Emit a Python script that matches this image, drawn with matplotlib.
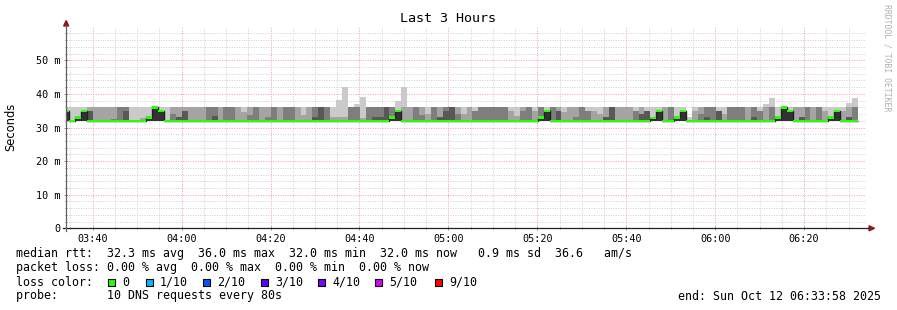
import numpy as np
import pandas as pd
import matplotlib
matplotlib.use("agg")
import matplotlib.pyplot as plt
import matplotlib.dates as mdates
from matplotlib.patches import Rectangle, Polygon
from matplotlib.lines import Line2D
from matplotlib.ticker import FixedLocator, FuncFormatter

W, H = 897, 310
MONO = "DejaVu Sans Mono"

title = "Last 3 Hours"
start = pd.Timestamp("2025-10-12 03:33:58")
end = pd.Timestamp("2025-10-12 06:33:58")
step = pd.Timedelta(seconds=80)
first_edge = pd.Timedelta(seconds=47)

# five lowest pings of every step sit on the floor
low_ms = 32.0
# median and the upper pings (ms), one value per 80 s step
med = [35, 32, 33, 35, 32, 32, 32, 32, 32, 32,
       32, 32, 32, 32, 33, 36, 35, 32, 32, 32,
       32, 32, 32, 32, 32, 32, 32, 32, 32, 32,
       32, 32, 32, 32, 32, 32, 32, 32, 32, 32,
       32, 32, 32, 32, 32, 32, 32, 32, 32, 32,
       32, 32, 32, 32, 32, 33, 35, 32, 32, 32,
       32, 32, 32, 32, 32, 32, 32, 32, 32, 32,
       32, 32, 32, 32, 32, 32, 32, 32, 32, 32,
       33, 35, 32, 32, 32, 32, 32, 32, 32, 32,
       32, 32, 32, 32, 32, 32, 32, 32, 32, 32.8,
       35, 32, 32, 33, 35, 32, 32, 32, 32, 32,
       32, 32, 32, 32, 32, 32, 32, 32, 32, 32,
       33, 36, 35, 32, 32, 32, 32, 32, 32, 33,
       35, 32, 32, 32]
p7 = [35, 32, 33, 35, 35, 32, 32, 32, 32, 32,
      34.8, 32, 32, 32, 33, 36, 35, 32, 32, 33.2,
      35, 32, 32, 32, 32, 33.5, 32, 32, 32, 32,
      32, 32, 32, 32, 32, 32, 32, 32, 32, 32,
      32, 32, 33.2, 36, 32, 32, 32, 32, 32, 32,
      32, 32, 33, 33.2, 36, 33, 35, 32, 32, 32,
      32, 32, 32, 33.2, 34.8, 36, 32, 32, 32, 32,
      32, 32, 32, 32, 32, 32, 32, 32, 32, 32,
      33, 35, 32, 34.8, 32, 32, 32, 32, 32, 32,
      32, 33.2, 36, 32, 32, 32, 32, 34, 34.8, 32.8,
      35, 32, 32, 33, 35, 32, 32, 32, 33.2, 32,
      34.8, 32, 32, 32, 32, 32, 33.2, 32, 32, 32,
      33, 36, 35, 32, 33.2, 32, 32, 32, 32, 33,
      35, 32, 33.2, 32]
p8 = [35, 32, 33, 35, 35, 32, 32, 32, 32.6, 36,
      36, 32, 32, 32, 33, 36, 35, 32, 34, 33.2,
      35, 32, 32, 32, 36, 36, 32, 36, 36, 32,
      32, 33.8, 36, 32, 33.2, 36, 32, 36, 36, 32,
      32, 32, 36, 36, 36, 32, 32, 32, 36, 36,
      32, 36, 36, 36, 36, 36, 35, 32, 32, 36,
      33.8, 32, 36, 33.2, 36, 36, 34, 32, 32, 35,
      36, 36, 36, 36, 36, 32, 32, 35, 36, 32,
      36, 35, 36, 34.8, 32, 32, 33, 36, 35, 32,
      32, 33.2, 36, 32, 32, 32, 35, 34, 35, 32.8,
      35, 32, 36, 33, 35, 32, 32, 34, 36, 36,
      34.8, 32, 36, 36, 36, 32, 36, 35, 32, 36,
      33, 36, 35, 32, 33.2, 36, 32, 36, 32, 33,
      35, 32, 33.2, 36]
p9 = [35, 32, 33, 35, 36, 36, 36, 36, 36, 36,
      36, 32, 32, 32.8, 33, 36, 35, 32, 36, 36,
      36, 36, 36, 36, 36, 36, 36, 36, 36, 36,
      34.5, 36, 36, 36, 36, 36, 36, 36, 36, 36,
      33.8, 36, 36, 36, 36, 33, 33, 33, 36, 36,
      32.8, 36, 36, 36, 36, 36, 35, 36, 36, 36,
      36, 34, 36, 36, 36, 36, 36, 34, 36, 35,
      36, 36, 36, 36, 36, 35, 33.5, 36, 36, 35,
      36, 35, 36, 36, 34.5, 36, 36, 36, 35, 35,
      34, 36, 36, 36, 36, 36, 35, 36, 35, 32.8,
      35, 36, 36, 33, 35, 32, 35, 36, 36, 36,
      34.8, 34, 36, 36, 36, 36, 36, 35, 36, 36,
      33, 36, 35, 36, 36, 36, 36, 36, 35, 33,
      35, 35, 36, 36]
p10 = [36, 36, 36, 36, 36, 36, 36, 36, 36, 36,
       36, 36, 36, 36, 36, 36, 36, 36, 36, 36,
       36, 36, 36, 36, 36, 36, 36, 36, 36, 36,
       36, 36, 36, 36, 36, 36, 36, 36, 36, 36,
       36, 36, 36, 36, 36, 36, 38.3, 42.2, 36, 37.1,
       39.1, 36, 36, 36, 36, 36, 38, 42, 36, 36,
       36, 36, 36, 36, 36, 36, 36, 36, 36, 36,
       36, 36, 36, 36, 36, 36, 36, 36, 36, 36,
       36, 36, 36, 36, 36, 36, 36, 36, 36, 36,
       36, 36, 36, 36, 36, 36, 36, 36, 36, 36,
       36, 36, 36, 36, 36, 33, 36, 36, 36, 36,
       36, 36, 36, 36, 36, 36, 36, 36, 37, 38.8,
       36, 36, 36, 36, 36, 36, 36, 36, 36, 36,
       36, 36, 37.2, 38.8]

loss_labels = ["0", "1/10", "2/10", "3/10", "4/10", "5/10", "9/10"]
loss_colors = ["#26ff00", "#00b8ff", "#0059ff", "#5e00ff", "#7e00ff", "#dd00ff", "#ff0000"]

rtt_line = "median rtt:  32.3 ms avg  36.0 ms max  32.0 ms min  32.0 ms now   0.9 ms sd  36.6   am/s"
loss_line = "packet loss: 0.00 % avg  0.00 % max  0.00 % min  0.00 % now"
probe_line = "probe:       10 DNS requests every 80s"
end_line = "end: Sun Oct 12 06:33:58 2025"


def fx(x):
    return x / W


def fy(y):
    return 1 - y / H


fig = plt.figure(figsize=(W / 100, H / 100), dpi=100)
fig.patch.set_facecolor("white")
left, right, top, bottom = 65.8, 866.3, 26.7, 228.3
ax = fig.add_axes([fx(left), fy(bottom), (right - left) / W, (bottom - top) / H])
ax.set_facecolor("white")

n = len(med)
edges = mdates.date2num([start + first_edge + step * (k - 1) for k in range(n + 1)])
med_a = np.array(med, dtype=float)
floor = np.full(n, low_ms)

# smoke: nested bands, darker towards the median
smoke_cols = ["#cacaca", "#a4a4a4", "#7e7e7e", "#585858", "#323232"]
for vals, col in zip([p10, p9, p8, p7, med], smoke_cols):
    ax.stairs(vals, edges, baseline=floor, fill=True, color=col, lw=0, zorder=2)

ax.stairs(med_a, edges, baseline=None, color="#202020", lw=1.0, zorder=3)
ax.stairs(med_a + 0.35, edges, baseline=med_a - 0.35, fill=True,
          color=loss_colors[0], lw=0, zorder=4)

ax.set_xlim(mdates.date2num(start), mdates.date2num(end))
ax.set_ylim(0, 60)

ax.xaxis.set_major_locator(mdates.MinuteLocator(byminute=[0, 20, 40]))
ax.xaxis.set_minor_locator(mdates.MinuteLocator(byminute=range(0, 60, 5)))
ax.xaxis.set_major_formatter(mdates.DateFormatter("%H:%M"))
ax.yaxis.set_major_locator(FixedLocator([0, 10, 20, 30, 40, 50]))
ax.yaxis.set_minor_locator(FixedLocator([v for v in range(2, 60, 2) if v % 10]))
ax.yaxis.set_major_formatter(FuncFormatter(lambda v, p: "0" if v == 0 else "%d m" % v))

ax.set_axisbelow(True)
ax.grid(which="minor", color="#cfcfcf", lw=0.7, ls=(0, (1, 1.5)))
ax.grid(which="major", color="#f2a0a0", lw=0.7, ls=(0, (1, 1.5)))

for s in ax.spines.values():
    s.set_visible(False)
ax.tick_params(which="both", direction="inout", color="#909090", width=0.7)
ax.tick_params(which="major", length=3, labelsize=7.3, pad=2.5)
ax.tick_params(which="minor", length=1.5)
for lab in ax.get_xticklabels() + ax.get_yticklabels():
    lab.set_family(MONO)

# axis lines with arrows
fig.add_artist(Line2D([fx(63), fx(868)], [fy(228.3), fy(228.3)], color="#202020", lw=0.9))
fig.add_artist(Line2D([fx(66.2), fx(66.2)], [fy(231), fy(25)], color="#606060", lw=0.9))
arrow_col = "#8b1a1a"
fig.add_artist(Polygon([[fx(63.7), fy(26)], [fx(68.7), fy(26)], [fx(66.2), fy(20.5)]],
                       closed=True, color=arrow_col, transform=fig.transFigure))
fig.add_artist(Polygon([[fx(869), fy(225.8)], [fx(869), fy(230.8)], [fx(874.5), fy(228.3)]],
                       closed=True, color=arrow_col, transform=fig.transFigure))

fig.text(fx(448), fy(19), title, ha="center", va="center", family=MONO, size=9.6)
fig.text(fx(10.5), fy(127), "Seconds", ha="center", va="center", rotation=90,
         family="DejaVu Sans", size=8.3)
fig.text(fx(886.5), fy(4), "RRDTOOL / TOBI OETIKER", ha="center", va="top",
         rotation=270, family=MONO, size=5.9, color="#b0b0b0")

fig.text(fx(16), fy(254), rtt_line, ha="left", va="center", family=MONO, size=8.4)
fig.text(fx(16), fy(268), loss_line, ha="left", va="center", family=MONO, size=8.4)
fig.text(fx(16), fy(282), "loss color:", ha="left", va="center", family=MONO, size=8.4)
box_x = [108, 146, 203, 261, 318, 375, 435]
for bx, lab, col in zip(box_x, loss_labels, loss_colors):
    fig.add_artist(Rectangle((fx(bx), fy(285.5)), 7 / W, 7 / H, transform=fig.transFigure,
                             facecolor=col, edgecolor="black", lw=0.8))
    fig.text(fx(bx + 14), fy(282), lab, ha="left", va="center", family=MONO, size=8.4)
fig.text(fx(16), fy(296), probe_line, ha="left", va="center", family=MONO, size=8.4)
fig.text(fx(881), fy(296), end_line, ha="right", va="center", family=MONO, size=8.4)

fig.savefig("out.png", dpi=100, facecolor="white")
